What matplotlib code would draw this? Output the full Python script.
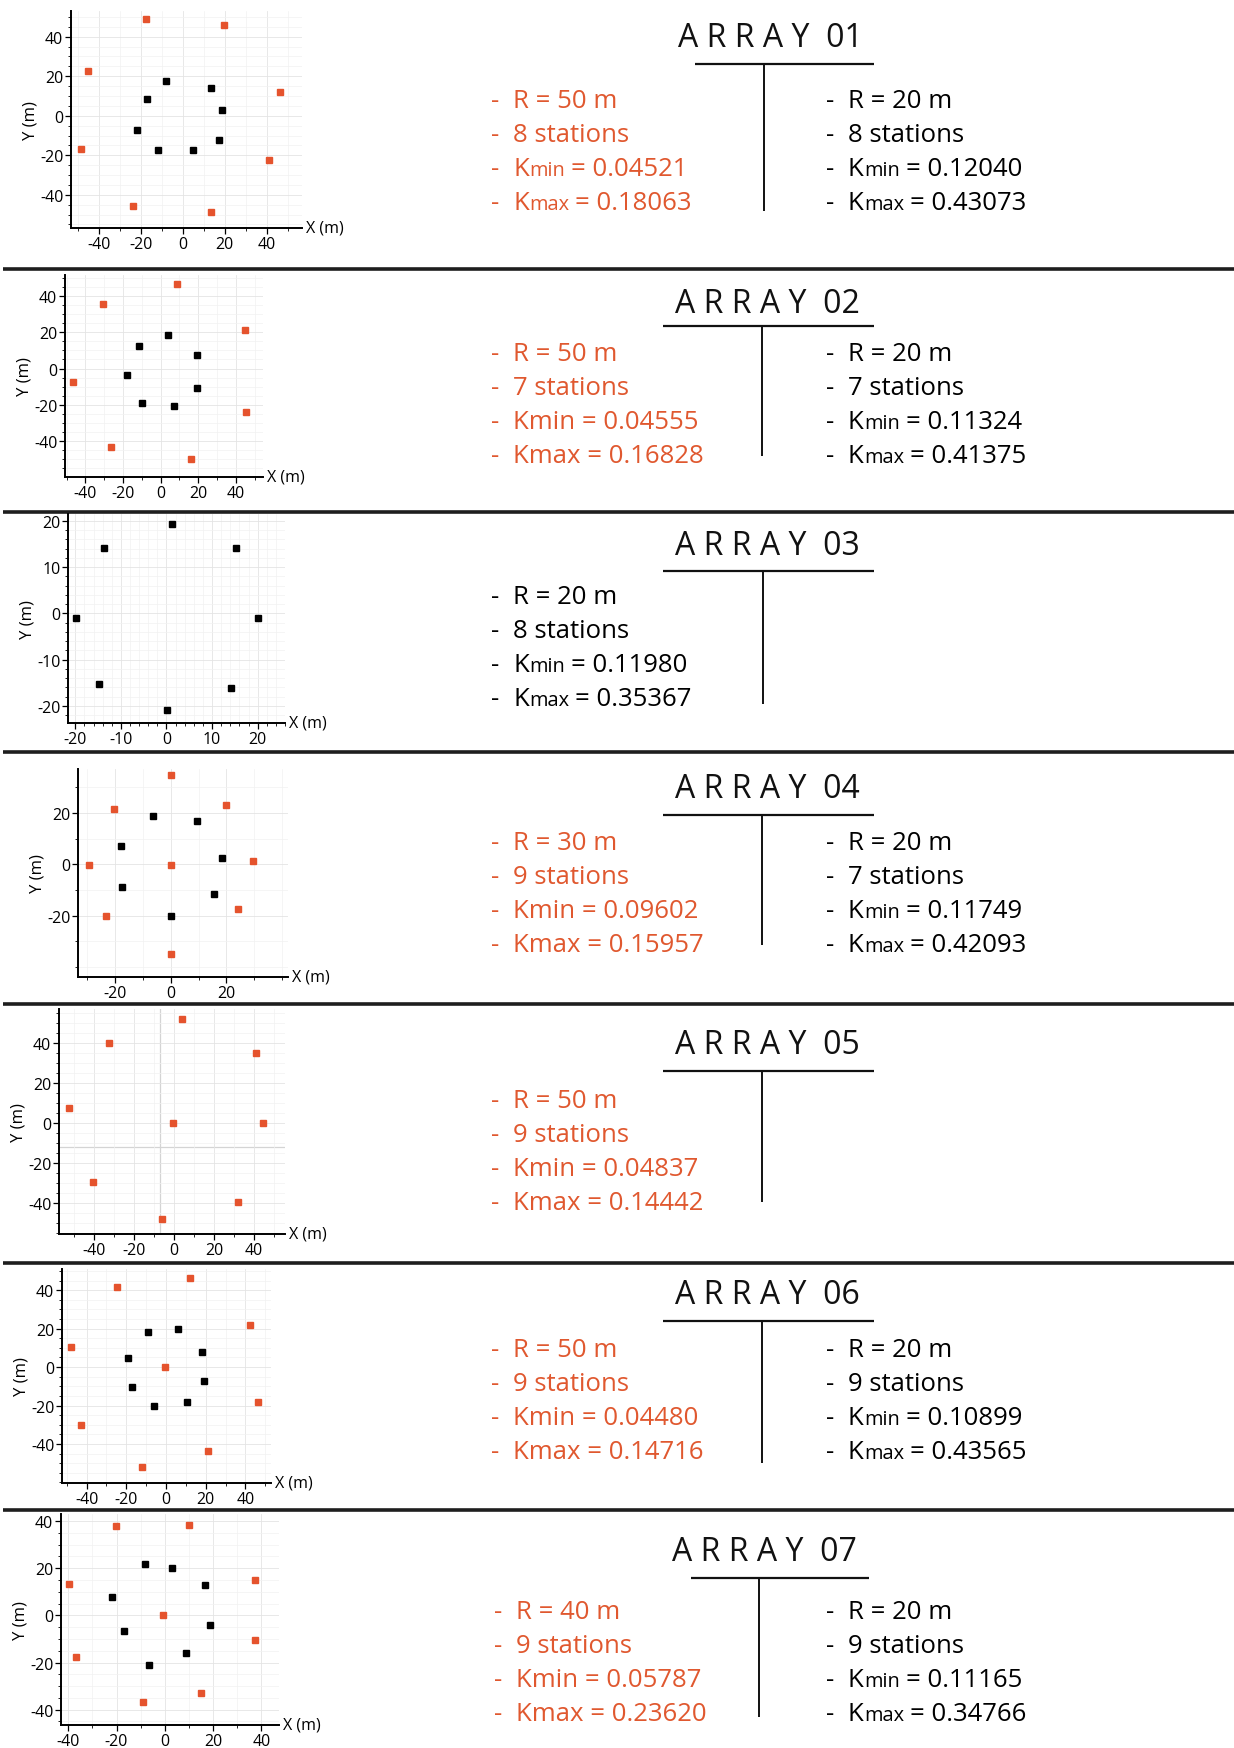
import matplotlib.pyplot as plt
from matplotlib.ticker import FixedLocator, MultipleLocator

plt.rcParams['font.family'] = ['Open Sans', 'DejaVu Sans']
plt.rcParams['axes.unicode_minus'] = False

W, H = 1234, 1749
RED = '#e5532d'
RED_TXT = '#e0582f'
FS = 18.5        # info text size
TITLE_FS = 23
LINE = 34        # info line spacing (px)

# ---- station coordinates (m): outer ring (red) / inner ring (black) ----
a1_outer_x = [-17.6, 19.5, -45.4, 46.4, -48.6, 41.1, -24.0, 13.6]
a1_outer_y = [49.1, 45.9, 22.4, 11.9, -16.8, -22.2, -45.7, -48.6]
a1_inner_x = [-8.0, 13.6, -17.0, 18.4, -21.9, 17.4, -11.8, 4.8]
a1_inner_y = [17.8, 13.8, 8.6, 3.0, -7.1, -12.4, -17.5, -17.5]

a2_outer_x = [8.5, -30.8, 45.0, -46.4, 45.7, -26.2, 16.3]
a2_outer_y = [46.5, 35.5, 21.1, -7.2, -23.7, -43.2, -49.8]
a2_inner_x = [4.1, -11.3, 19.5, -17.7, 19.5, -9.7, 7.3]
a2_inner_y = [18.4, 12.5, 7.4, -3.7, -10.5, -18.8, -20.8]

a3_inner_x = [1.2, -13.8, 15.2, -19.8, 20.0, -14.9, 14.2, 0.1]
a3_inner_y = [19.4, 14.2, 14.2, -0.9, -0.9, -15.3, -16.1, -20.9]

a4_outer_x = [0.0, -20.3, 19.7, -29.5, 0.0, 29.5, -23.4, 24.0, 0.0]
a4_outer_y = [34.9, 21.7, 23.2, -0.4, -0.1, 1.2, -20.2, -17.3, -35.0]
a4_inner_x = [-6.2, 9.6, -18.0, 18.4, -17.6, 15.5, 0.2]
a4_inner_y = [18.8, 16.9, 7.2, 2.6, -8.7, -11.5, -20.2]

a5_outer_x = [4.2, -32.5, 40.8, -52.3, -0.3, 44.5, -40.5, 32.2, -6.2]
a5_outer_y = [51.9, 39.9, 35.1, 7.3, 0.0, 0.0, -29.3, -39.4, -48.1]

a6_outer_x = [12.1, -24.9, 42.4, -47.9, -0.3, 46.4, -43.0, 21.0, -12.3]
a6_outer_y = [46.1, 41.4, 21.9, 10.6, -0.2, -18.1, -29.9, -43.8, -52.0]
a6_inner_x = [5.9, -9.2, 18.0, -19.3, 19.3, -17.3, -6.2, 10.4]
a6_inner_y = [20.0, 18.1, 7.7, 4.5, -7.1, -10.6, -20.5, -18.4]

a7_outer_x = [-20.1, 10.2, -39.6, 37.5, -0.6, 37.5, -36.7, 15.0, -9.0]
a7_outer_y = [37.8, 38.5, 13.4, 15.0, 0.1, -10.4, -17.6, -32.8, -36.7]
a7_inner_x = [-8.1, 3.0, 16.7, -21.7, 18.9, -17.1, 8.8, -6.6]
a7_inner_y = [21.7, 20.0, 12.9, 8.0, -3.9, -6.7, -16.0, -21.0]

# ---- array parameters: radius, station count, Kmin, Kmax ----
a1_big = ['50 m', '8 stations', '0.04521', '0.18063']
a1_small = ['20 m', '8 stations', '0.12040', '0.43073']
a2_big = ['50 m', '7 stations', '0.04555', '0.16828']
a2_small = ['20 m', '7 stations', '0.11324', '0.41375']
a3_small = ['20 m', '8 stations', '0.11980', '0.35367']
a4_big = ['30 m', '9 stations', '0.09602', '0.15957']
a4_small = ['20 m', '7 stations', '0.11749', '0.42093']
a5_big = ['50 m', '9 stations', '0.04837', '0.14442']
a6_big = ['50 m', '9 stations', '0.04480', '0.14716']
a6_small = ['20 m', '9 stations', '0.10899', '0.43565']
a7_big = ['40 m', '9 stations', '0.05787', '0.23620']
a7_small = ['20 m', '9 stations', '0.11165', '0.34766']

ticks50 = [-40, -20, 0, 20, 40]
ticks20 = [-20, -10, 0, 10, 20]
ticks30 = [-20, 0, 20]

fig = plt.figure(figsize=(W / 100, H / 100), dpi=100)
fig.patch.set_facecolor('white')

# full-figure layer in pixel units for rules and text
bg = fig.add_axes([0, 0, 1, 1])
bg.set_xlim(0, W)
bg.set_ylim(H, 0)
bg.axis('off')
rend = fig.canvas.get_renderer()

for y in [270, 513, 753, 1005, 1264, 1511]:
    bg.plot([3, W], [y, y], color='#1e1e1e', lw=2.6, solid_capstyle='butt')


def station_map(box, xlim, ylim, xt, yt, xminor, yminor, outer, inner):
    l, r, t, b = box
    ax = fig.add_axes([l / W, 1 - b / H, (r - l) / W, (b - t) / H])
    ax.set_xlim(xlim)
    ax.set_ylim(ylim)
    for s in ('top', 'right'):
        ax.spines[s].set_visible(False)
    for s in ('left', 'bottom'):
        ax.spines[s].set_linewidth(1.4)
    ax.xaxis.set_major_locator(FixedLocator(xt))
    ax.yaxis.set_major_locator(FixedLocator(yt))
    ax.xaxis.set_minor_locator(MultipleLocator(xminor))
    ax.yaxis.set_minor_locator(MultipleLocator(yminor))
    ax.grid(which='major', color='#e4e4e4', lw=0.6)
    ax.grid(which='minor', color='#f2f2f2', lw=0.5)
    ax.set_axisbelow(True)
    ax.tick_params(which='major', length=4, width=0.9, labelsize=11.5, pad=1.5)
    ax.tick_params(which='minor', length=2, width=0.6)
    if outer is not None:
        ax.plot(outer[0], outer[1], 's', ms=5, color=RED, ls='none', clip_on=False)
    if inner is not None:
        ax.plot(inner[0], inner[1], 's', ms=5, color='black', ls='none', clip_on=False)
    ax.set_ylabel('Y (m)', fontsize=12, labelpad=1)
    ax.annotate('X (m)', xy=(1, 0), xycoords='axes fraction', xytext=(3, 0),
                textcoords='offset points', va='center', ha='left', fontsize=11.5)
    return ax


def put(x, y, s, size, color):
    t = bg.text(x, y, s, fontsize=size, color=color, va='baseline', ha='left')
    return t.get_window_extent(rend).x1


def info_block(x, y0, vals, color, small_sub):
    r, n, kmin, kmax = vals
    rows = [('R = ' + r, None), (n, None), (kmin, 'min'), (kmax, 'max')]
    for i, (txt, sub) in enumerate(rows):
        y = y0 + i * LINE
        put(x, y, '-', FS, color)
        xx = x + 22
        if sub is None:
            put(xx, y, txt, FS, color)
        elif small_sub:
            xx = put(xx, y, 'K', FS, color)
            xx = put(xx + 0.5, y, sub, FS * 0.78, color)
            put(xx + 6, y, '= ' + txt, FS, color)
        else:
            put(xx, y, 'K' + sub + ' = ' + txt, FS, color)


def header(name, cx, cy, hx0, hx1, hy, vx, vy1):
    spaced = ' '.join('ARRAY') + '  ' + name
    bg.text(cx, cy + 11, spaced, fontsize=TITLE_FS, ha='center', va='baseline', color='#111111')
    bg.plot([hx0, hx1], [hy, hy], color='#111111', lw=1.6, solid_capstyle='butt')
    bg.plot([vx, vx], [hy, vy1], color='#111111', lw=1.4, solid_capstyle='butt')


# ARRAY 01
station_map((71, 302, 12, 229), (-53.4, 56.8), (-56.8, 53), ticks50, ticks50, 10, 5,
            (a1_outer_x, a1_outer_y), (a1_inner_x, a1_inner_y))
header('01', 770, 36, 695, 874, 65, 764, 212)
info_block(491, 108, a1_big, RED_TXT, True)
info_block(826, 108, a1_small, 'black', True)

# ARRAY 02
station_map((65, 263, 276, 478), (-50.8, 54.5), (-59.7, 51.5), ticks50, ticks50, 10, 5,
            (a2_outer_x, a2_outer_y), (a2_inner_x, a2_inner_y))
header('02', 767, 302, 663, 874, 327, 762, 457)
info_block(491, 361, a2_big, RED_TXT, False)
info_block(826, 361, a2_small, 'black', True)

# ARRAY 03
station_map((68, 285, 515, 724), (-21.6, 26), (-23.7, 21.5), ticks20, ticks20, 2, 2,
            None, (a3_inner_x, a3_inner_y))
header('03', 767, 544, 663, 874, 572, 763, 705)
info_block(491, 604, a3_small, 'black', True)

# ARRAY 04
station_map((78, 288, 770, 978), (-33.3, 42.1), (-43.9, 37.1), ticks30, ticks30, 10, 10,
            (a4_outer_x, a4_outer_y), (a4_inner_x, a4_inner_y))
header('04', 767, 787, 663, 874, 816, 762, 946)
info_block(491, 850, a4_big, RED_TXT, False)
info_block(826, 850, a4_small, 'black', True)

# ARRAY 05
ax5 = station_map((59, 285, 1010, 1235), (-57.5, 55.5), (-55.4, 56.9), ticks50, ticks50, 10, 5,
                  (a5_outer_x, a5_outer_y), None)
ax5.axvline(-7, color='#d4d4d4', lw=0.9, zorder=0.5)
ax5.axhline(-12, color='#d4d4d4', lw=0.9, zorder=0.5)
header('05', 767, 1043, 663, 874, 1072, 762, 1203)
info_block(491, 1108, a5_big, RED_TXT, False)

# ARRAY 06
station_map((62, 271, 1270, 1484), (-52.4, 52.9), (-60.3, 51), ticks50, ticks50, 10, 5,
            (a6_outer_x, a6_outer_y), (a6_inner_x, a6_inner_y))
header('06', 767, 1293, 663, 874, 1322, 762, 1464)
info_block(491, 1357, a6_big, RED_TXT, False)
info_block(826, 1357, a6_small, 'black', True)

# ARRAY 07
station_map((61, 279, 1515, 1726), (-43, 47.3), (-46.5, 43), ticks50, [-40, -20, 0, 20, 40], 10, 5,
            (a7_outer_x, a7_outer_y), (a7_inner_x, a7_inner_y))
header('07', 764, 1550, 691, 869, 1579, 759, 1718)
info_block(494, 1619, a7_big, RED_TXT, False)
info_block(826, 1619, a7_small, 'black', True)

fig.savefig('out.png', dpi=100, facecolor='white')
